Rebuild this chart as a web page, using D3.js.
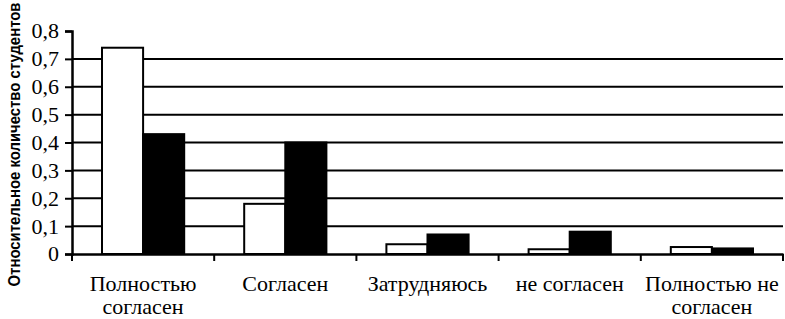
<!DOCTYPE html>
<html>
<head>
<meta charset="utf-8">
<script src="https://cdn.jsdelivr.net/npm/d3@7"></script>
<style>
  body { margin: 0; background: #fff; }
  svg { display: block; }
</style>
</head>
<body>
<div class="chart"></div>
<script>
// answer categories (two-line labels)
const categories = ["Полностью согласен", "Согласен", "Затрудняюсь", "не согласен", "Полностью не согласен"];
const catLines = [["Полностью", "согласен"], ["Согласен"], ["Затрудняюсь"], ["не согласен"], ["Полностью не", "согласен"]];
const series = ["white", "black"];
const whiteValues = [0.74, 0.18, 0.035, 0.017, 0.025];
const blackValues = [0.43, 0.40, 0.07, 0.08, 0.02];
const yTicks = [0, 0.1, 0.2, 0.3, 0.4, 0.5, 0.6, 0.7, 0.8];
const yLabel = "Относительное количество студентов";

const width = 785, height = 319;
const margin = {top: 31, right: 2, bottom: 65, left: 72};
// serif labels are set small and scaled up (large sizes fell back to sans here)
const baseSize = 14, k = 22 / 14;

const svg = d3.select("div.chart").append("svg")
    .attr("width", width)
    .attr("height", height);

const x0 = d3.scaleBand()
    .domain(categories)
    .range([margin.left, width - margin.right])
    .padding(0);

const x1 = d3.scaleBand()
    .domain(series)
    .range([0, x0.bandwidth()])
    .paddingInner(0)
    .paddingOuter(0.73);

const y = d3.scaleLinear()
    .domain([0, 0.8])
    .range([height - margin.bottom, margin.top]);

const fmt = d => d3.format(".1f")(d).replace(".", ",").replace(/^0,0$/, "0");

// grid lines (0.1 .. 0.7)
svg.append("g")
    .selectAll("line")
    .data(yTicks.filter(t => t > 0 && t < 0.8))
    .join("line")
    .attr("x1", margin.left)
    .attr("x2", width - margin.right)
    .attr("y1", d => y(d))
    .attr("y2", d => y(d))
    .attr("stroke", "#000")
    .attr("stroke-width", 2);

// bars
const rows = categories.map((c, i) => ({cat: c, vals: [whiteValues[i], blackValues[i]]}));
svg.append("g")
    .selectAll("g")
    .data(rows)
    .join("g")
    .attr("transform", d => `translate(${x0(d.cat)},0)`)
    .selectAll("rect")
    .data(d => d.vals.map((v, j) => ({key: series[j], v: v})))
    .join("rect")
    .attr("x", d => x1(d.key))
    .attr("width", x1.bandwidth())
    .attr("y", d => y(d.v))
    .attr("height", d => y(0) - y(d.v))
    .attr("fill", d => d.key == "white" ? "#fff" : "#000")
    .attr("stroke", "#000")
    .attr("stroke-width", 2);

// y axis (tick labels drawn separately below)
const yAxis = svg.append("g")
    .attr("transform", `translate(${margin.left},0)`)
    .call(d3.axisLeft(y).tickValues(yTicks).tickFormat("").tickSize(7));
yAxis.select(".domain").attr("stroke-width", 2.5);
yAxis.selectAll(".tick line").attr("stroke-width", 2);
yAxis.selectAll(".tick text").remove();

svg.append("g")
    .selectAll("g")
    .data(yTicks)
    .join("g")
    .attr("transform", d => `translate(${margin.left - 13},${y(d)}) scale(${k})`)
    .append("text")
    .attr("text-anchor", "end")
    .attr("dy", "0.34em")
    .attr("font-size", baseSize)
    .text(fmt);

// x axis
const xAxis = svg.append("g")
    .attr("transform", `translate(0,${y(0)})`)
    .call(d3.axisBottom(x0).tickValues([]).tickSizeOuter(0));
xAxis.select(".domain").attr("stroke-width", 2.5);
xAxis.selectAll(".xt")
    .data(d3.range(categories.length + 1))
    .join("line")
    .attr("class", "xt")
    .attr("x1", i => i < categories.length ? x0(categories[i]) : x0.range()[1])
    .attr("x2", i => i < categories.length ? x0(categories[i]) : x0.range()[1])
    .attr("y1", 0)
    .attr("y2", 7)
    .attr("stroke", "#000")
    .attr("stroke-width", 2);

// category labels
svg.append("g")
    .selectAll("g")
    .data(categories)
    .join("g")
    .attr("transform", d => `translate(${x0(d) + x0.bandwidth() / 2},291) scale(${k})`)
    .append("text")
    .attr("text-anchor", "middle")
    .attr("font-size", baseSize)
    .selectAll("tspan")
    .data((d, i) => catLines[i])
    .join("tspan")
    .attr("x", 0)
    .attr("dy", (d, i) => i == 0 ? 0 : 23 / k)
    .text(d => d);

// y label
svg.append("text")
    .attr("transform", `translate(20,${(y(0) + y(0.8)) / 2 + 2}) rotate(-90)`)
    .attr("text-anchor", "middle")
    .attr("font-family", "Liberation Sans")
    .attr("font-weight", "bold")
    .attr("font-size", 17)
    .attr("textLength", 284)
    .attr("lengthAdjust", "spacingAndGlyphs")
    .text(yLabel);
</script>
</body>
</html>
